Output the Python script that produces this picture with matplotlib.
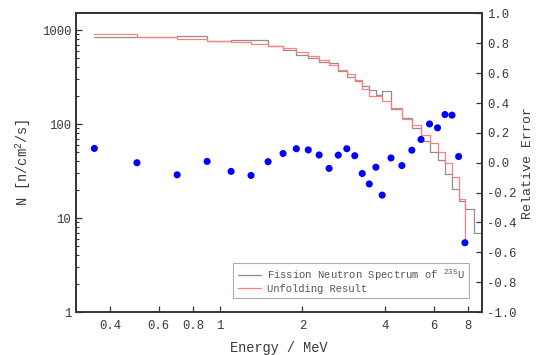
import matplotlib
matplotlib.use("Agg")
import matplotlib.pyplot as plt
from matplotlib.ticker import FixedLocator, NullFormatter, NullLocator

# 1. Data
# left bin edges (MeV), shared by both spectra and the error points
energy = [0.35, 0.5, 0.7, 0.9, 1.1, 1.3, 1.5, 1.7, 1.9, 2.1, 2.3, 2.5, 2.7,
          2.9, 3.1, 3.3, 3.5, 3.7, 3.9, 4.2, 4.6, 5.0, 5.4, 5.8, 6.2, 6.6,
          7.0, 7.4, 7.8]

# fission spectrum has one more bin after 7.8, running past the axis edge
fission_edges = energy + [8.4, 10.0]
fission_flux = [834, 849, 869, 764, 783, 775, 678, 606, 545, 505, 460, 442,
                369, 320, 284, 255, 230, 205, 223, 143, 116, 90, 66, 50, 41,
                29.3, 20.4, 15.3, 12.6, 6.9, 6.9]

unfold_flux = [910, 849, 795, 770, 740, 710, 683, 640, 580, 535, 478, 428,
               380, 340, 295, 237, 198, 197, 175, 148, 114, 97, 77, 63, 50.5,
               38.7, 27, 16, 5.8]

rel_error = [0.096, 0.0, -0.081, 0.009, -0.058, -0.085, 0.007, 0.062, 0.094,
             0.086, 0.052, -0.038, 0.051, 0.094, 0.047, -0.072, -0.142,
             -0.030, -0.217, 0.032, -0.019, 0.084, 0.156, 0.260, 0.234,
             0.323, 0.319, 0.042, -0.536]

x_ticks = [0.4, 0.6, 0.8, 1, 2, 4, 6, 8]
x_labels = ["0.4", "0.6", "0.8", "1", "2", "4", "6", "8"]
y_ticks = [1, 10, 100, 1000]
y_labels = ["1", "10", "100", "1000"]
err_ticks = [-1.0, -0.8, -0.6, -0.4, -0.2, 0.0, 0.2, 0.4, 0.6, 0.8, 1.0]

# 2. Style
font = "Liberation Mono"
txt_color = "#3a3a3a"
spine_color = "#333333"
plt.rcParams["font.family"] = [font, "DejaVu Sans"]
plt.rcParams["mathtext.fontset"] = "custom"
plt.rcParams["mathtext.rm"] = font

fig = plt.figure(figsize=(5.37, 3.55), dpi=100)
ax = fig.add_axes([0.1415, 0.1211, 0.7561, 0.8409])
ax2 = ax.twinx()

# 3. Spectra
ax.step(fission_edges, fission_flux, where="post", color="#8f8f8f",
        linewidth=0.9, label=r"Fission Neutron Spectrum of $^{235}$U")
ax.step(energy, unfold_flux, where="post", color="#ff8080",
        linewidth=0.9, label="Unfolding Result")

ax.set_xscale("log")
ax.set_yscale("log")
ax.set_xlim(0.3, 9.0)
ax.set_ylim(1, 1500)

ax.xaxis.set_major_locator(FixedLocator([1]))
ax.xaxis.set_minor_locator(FixedLocator([0.4, 0.6, 0.8, 2, 4, 6, 8]))
ax.set_xticks(x_ticks, x_labels)
ax.xaxis.set_minor_formatter(NullFormatter())
ax.set_yticks(y_ticks, y_labels)
ax.yaxis.set_minor_formatter(NullFormatter())

ax.tick_params(axis="both", which="major", direction="in", length=4,
               width=0.9, colors=spine_color, labelcolor=txt_color,
               labelsize=8.8)
ax.tick_params(axis="both", which="minor", direction="in", length=2,
               width=0.8, colors=spine_color)
ax.tick_params(axis="x", which="both", pad=6)

ax.set_xlabel("Energy / MeV", fontsize=9.8, color=txt_color, labelpad=6)
ax.set_ylabel(r"N [n/cm$^2$/s]", fontsize=9.8, color=txt_color, labelpad=6)

# 4. Relative error on the right axis
ax2.scatter(energy, rel_error, s=26, color="#0000ff", edgecolors="none",
            zorder=5)
ax2.set_ylim(-1.0, 1.0)
ax2.set_yticks(err_ticks, [f"{v:.1f}" for v in err_ticks])
ax2.yaxis.set_minor_locator(NullLocator())
ax2.tick_params(axis="y", direction="in", length=4, width=0.9,
                colors=spine_color, labelcolor=txt_color, labelsize=8.8)
ax2.set_ylabel("Relative Error", fontsize=9.5, color=txt_color, labelpad=4)

for a in (ax, ax2):
    for sp in a.spines.values():
        sp.set_color(spine_color)
        sp.set_linewidth(1.2)

leg = ax.legend(loc="lower right", bbox_to_anchor=(0.968, 0.047),
                borderaxespad=0, fontsize=7.6, frameon=True, fancybox=False,
                edgecolor="#999999", handlelength=2.2, handletextpad=0.6,
                labelspacing=0.1, borderpad=0.4)
leg.get_frame().set_linewidth(0.8)
for t in leg.get_texts():
    t.set_color("#555555")

fig.savefig("out.png", dpi=100)
